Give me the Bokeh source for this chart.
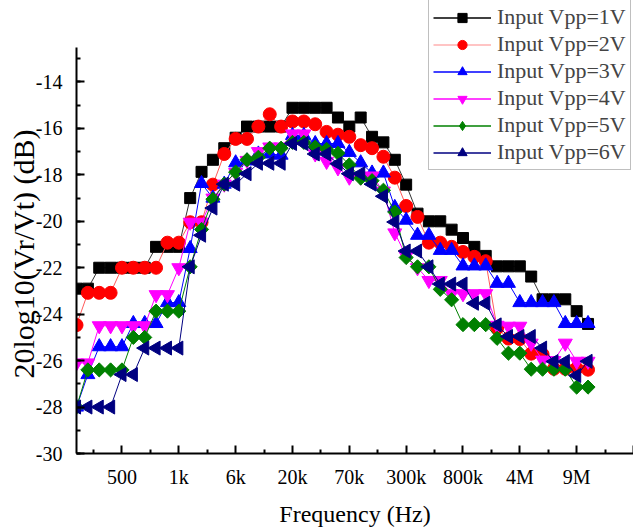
import math
from bokeh.plotting import figure
from bokeh.models import FixedTicker, SingleIntervalTicker, Range1d, Legend, LegendItem, Title
from bokeh.embed import file_html
from bokeh.resources import INLINE

# x positions are measurement indices; tick labels give the frequency at selected indices
idx = list(range(46))
tick_pos = [4, 9, 14, 19, 24, 29, 34, 39, 44, 49]
tick_labels = ["500", "1k", "6k", "20k", "70k", "300k", "800k", "4M", "9M", ""]
y_ticks = [-30, -28, -26, -24, -22, -20, -18, -16, -14]

vpp1 = [-22.9, -22.9, -22.0, -22.0, -22.0, -22.0, -22.0, -21.1, -21.1, -21.1,
        -19.0, -17.87, -17.35, -16.85, -16.4, -15.92, -15.92, -15.92, -15.92, -15.11,
        -15.11, -15.11, -15.11, -15.53, -15.92, -15.53, -16.36, -16.6, -17.35, -18.42,
        -19.67, -20.0, -20.0, -20.36, -20.72, -21.1, -21.49, -21.94, -21.94, -21.94,
        -22.38, -23.36, -23.36, -23.36, -23.87, -24.42]
vpp2 = [-24.47, -23.08, -23.08, -23.08, -22.0, -22.0, -22.0, -22.0, -20.92, -20.92,
        -20.04, -20.04, -18.42, -17.1, -16.45, -16.45, -15.92, -15.39, -15.92, -15.7,
        -15.7, -15.82, -16.15, -16.27, -16.36, -16.72, -16.85, -17.22, -18.12, -19.34,
        -19.81, -20.92, -20.92, -21.1, -21.32, -21.53, -21.72, -24.6, -25.05, -25.07,
        -25.7, -25.73, -26.35, -26.35, -26.33, -26.39]
vpp3 = [-28.0, -26.6, -25.4, -25.4, -25.4, -24.4, -24.4, -24.4, -23.5, -23.5,
        -21.17, -18.37, -19.0, -18.4, -17.48, -17.4, -17.1, -17.1, -17.15, -16.3,
        -16.3, -16.65, -16.65, -16.65, -17.03, -17.48, -17.92, -17.92, -19.4, -19.95,
        -20.6, -20.6, -21.25, -21.25, -21.92, -21.92, -21.92, -22.67, -22.67, -23.5,
        -23.5, -23.5, -23.5, -24.4, -24.4, -24.4]
vpp4 = [-26.1, -26.1, -24.5, -24.5, -24.5, -24.5, -24.5, -23.16, -23.16, -22.0,
        -20.04, -20.04, -19.0, -18.4, -17.9, -17.38, -17.0, -16.8, -16.8, -16.24,
        -16.24, -17.1, -17.42, -17.7, -18.1, -18.1, -18.05, -18.7, -20.5, -21.5,
        -22.0, -22.55, -22.55, -23.12, -23.12, -23.12, -23.12, -24.48, -24.52, -24.52,
        -25.25, -25.98, -26.0, -25.25, -26.03, -26.03]
vpp5 = [-28.0, -26.4, -26.4, -26.4, -26.4, -25.0, -25.0, -23.87, -23.87, -23.87,
        -21.96, -20.35, -19.05, -18.4, -17.88, -17.35, -17.24, -16.85, -16.85, -16.6,
        -16.6, -16.8, -16.9, -17.07, -17.57, -18.14, -18.25, -18.66, -19.6, -21.56,
        -21.96, -21.96, -22.93, -23.38, -24.45, -24.45, -24.45, -25.04, -25.68, -25.68,
        -26.37, -26.37, -26.37, -26.37, -27.14, -27.14]
vpp6 = [-28.0, -28.0, -28.0, -28.0, -26.6, -26.6, -25.46, -25.46, -25.46, -25.46,
        -21.96, -20.6, -19.43, -18.4, -18.4, -17.95, -17.5, -17.5, -17.5, -16.65,
        -16.65, -17.1, -17.1, -17.52, -17.95, -17.95, -18.4, -18.92, -20.03, -21.28,
        -21.28, -21.96, -22.7, -22.7, -22.7, -23.53, -23.53, -24.46, -24.96, -24.96,
        -24.96, -25.46, -26.04, -26.04, -26.64, -26.03]

labels = ["Input Vpp=1V", "Input Vpp=2V", "Input Vpp=3V",
          "Input Vpp=4V", "Input Vpp=5V", "Input Vpp=6V"]

FONT = "Liberation Serif"
NAN = [float("nan")]

# frame: x 76..633, y 0..459 ; y axis line drawn only from -30 to -12.5
p = figure(width=633, height=529, x_range=Range1d(0, 49), y_range=Range1d(-30, -10.49),
           output_backend="svg", toolbar_location=None,
           min_border_left=76, min_border_right=0, min_border_top=0, min_border_bottom=70)
p.outline_line_color = None
p.xgrid.visible = False
p.ygrid.visible = False
p.background_fill_color = "white"
p.border_fill_color = "white"

styles = [
    dict(data=vpp1, line="#333333", color="#000000", marker="square", lmarker="square", size=11, angle=0.0),
    dict(data=vpp2, line="#ff5a5a", color="#ff0000", marker="circle", lmarker="circle", size=13, angle=0.0),
    dict(data=vpp3, line="#0000ff", color="#0000ff", marker="triangle", lmarker="triangle", size=14, angle=0.0),
    dict(data=vpp4, line="#ff00ff", color="#ff00ff", marker="inverted_triangle", lmarker="inverted_triangle", size=14, angle=0.0),
    dict(data=vpp5, line="#008000", color="#008000", marker="square", lmarker="diamond", size=10, angle=math.pi / 4),
    dict(data=vpp6, line="#000080", color="#000080", marker="triangle", lmarker="triangle", size=14, angle=math.pi / 2),
]
legend_line = ["#000000", "#ffb0b0", "#0000ff", "#ff00ff", "#008000", "#000080"]

items = []
for st, lab, lc in zip(styles, labels, legend_line):
    p.line(idx, st["data"], line_color=st["line"], line_width=1)
    p.scatter(idx, st["data"], marker=st["marker"], size=st["size"], angle=st["angle"],
              fill_color=st["color"], line_color=st["color"])
    # legend-only renderers (a single NaN point, never drawn)
    ll = p.line(NAN, NAN, line_color=lc, line_width=1.5)
    ls = p.scatter(NAN, NAN, marker=st["lmarker"], size=9,
                   fill_color=st["color"], line_color=st["color"])
    items.append(LegendItem(label=lab, renderers=[ll, ls]))

legend = Legend(items=items, location=(352, 283),
                label_text_font=FONT, label_text_font_size="22px",
                glyph_width=58, glyph_height=23, label_height=23,
                spacing=1, padding=4, margin=0, label_standoff=6,
                border_line_color="#7f7f7f", border_line_width=1,
                background_fill_color="white", background_fill_alpha=1.0)
p.add_layout(legend)

# x axis
xa = p.xaxis[0]
xa.ticker = FixedTicker(ticks=tick_pos, minor_ticks=[1.5 + 5 * k for k in range(10)])
xa.major_label_overrides = {t: lab for t, lab in zip(tick_pos, tick_labels)}
xa.major_label_standoff = 12
xa.axis_label = "Frequency (Hz)"
xa.axis_label_text_font_size = "24px"
xa.axis_label_standoff = 10
xa.axis_label_text_font = FONT
xa.axis_label_text_font_style = "normal"
xa.axis_label_text_color = "black"

# y axis
ya = p.yaxis[0]
ya.ticker = SingleIntervalTicker(interval=2, num_minor_ticks=2)
ya.bounds = (-30, -12.5)
ya.major_label_overrides = {t: "-%d" % abs(t) for t in y_ticks}
ya.major_label_standoff = 14

for ax in (xa, ya):
    ax.axis_line_width = 2
    ax.axis_line_color = "black"
    ax.major_tick_in = 8
    ax.major_tick_out = 0
    ax.minor_tick_in = 4
    ax.minor_tick_out = 0
    ax.major_tick_line_width = 2
    ax.minor_tick_line_width = 2
    ax.major_label_text_font = FONT
    ax.major_label_text_font_size = "20px"
    ax.major_label_text_color = "black"

# y axis title, placed along the axis' drawn extent
ytitle = Title(text="20log10(Vr/Vt) (dB)", align="left", offset=75, standoff=-15,
               text_font=FONT, text_font_size="30px", text_font_style="normal",
               text_color="black")
p.add_layout(ytitle, "left")

open("out.html", "w").write(file_html(p, INLINE))
